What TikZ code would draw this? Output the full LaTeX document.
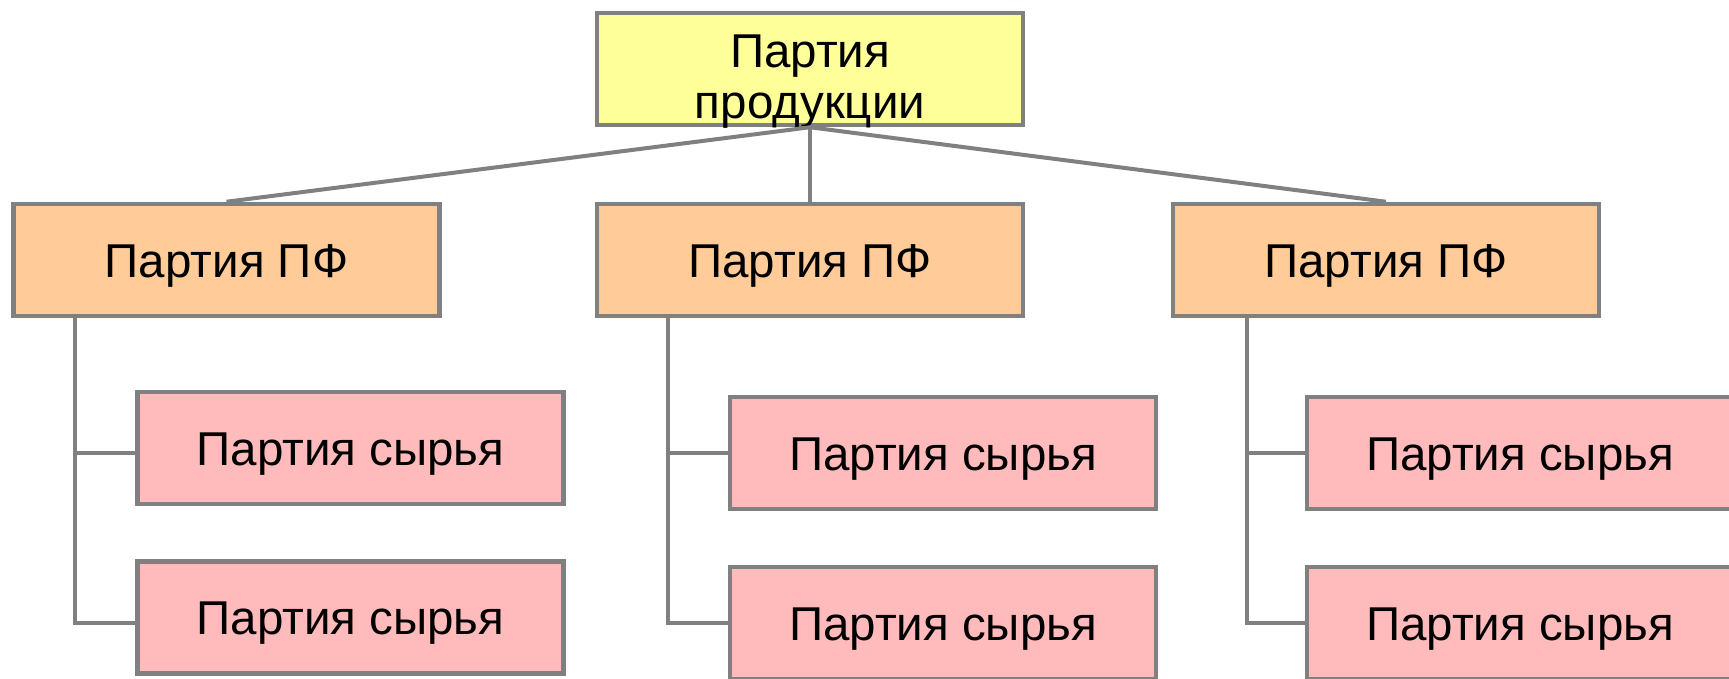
\documentclass[tikz,border=0pt]{standalone}
\usepackage{fontspec}
\setmainfont{Liberation Sans}
\definecolor{bord}{HTML}{808080}
\definecolor{rootfill}{HTML}{FFFF99}
\definecolor{pffill}{HTML}{FFCC99}
\definecolor{rawfill}{HTML}{FFBBBB}
\tikzset{
  boxbase/.style={draw=bord, line width=4.5pt, rectangle, minimum width=426pt, minimum height=112pt, inner sep=0pt,
    font=\fontsize{47.5}{51}\selectfont, text height=34pt, text depth=0pt},
  rootbox/.style={boxbase, fill=rootfill, align=center},
  pfbox/.style={boxbase, fill=pffill},
  rawbox/.style={boxbase, fill=rawfill},
  conn/.style={draw=bord, line width=4pt}
}
\begin{document}
\begin{tikzpicture}[x=1pt,y=-1pt]
\useasboundingbox (0,0) rectangle (1729,678);
\clip (0,0) rectangle (1729,678);
\fill[white] (0,0) rectangle (1729,678);
\coordinate (t1) at (75,0);
\coordinate (t2) at (668,0);
\coordinate (t3) at (1247,0);
% nodes
\node[rootbox, text height=98pt] (root) at (810,69) {Партия\\продукции};
\node[pfbox] (pf1) at (226.5,260) {Партия ПФ};
\node[pfbox] (pf2) at (810,260) {Партия ПФ};
\node[pfbox] (pf3) at (1386,260) {Партия ПФ};
\node[rawbox] (r11) at (350.5,448) {Партия сырья};
\node[rawbox] (r12) at (350.5,617.5) {Партия сырья};
\node[rawbox] (r21) at (943,453) {Партия сырья};
\node[rawbox] (r22) at (943,623) {Партия сырья};
\node[rawbox] (r31) at (1520,453) {Партия сырья};
\node[rawbox] (r32) at (1520,623) {Партия сырья};
% connectors
\coordinate (h11) at ([yshift=-5pt]r11.west);
\coordinate (h12) at ([yshift=-5pt]r12.west);
\draw[conn] (root.south) -- (pf1.north);
\draw[conn] (root.south) -- (pf2.north);
\draw[conn] (root.south) -- (pf3.north);
\draw[conn] (pf1.south -| t1) |- (h12);
\draw[conn] (h11 -| t1) -- (h11);
\draw[conn] (pf2.south -| t2) |- (r22.west);
\draw[conn] (r21.west -| t2) -- (r21.west);
\draw[conn] (pf3.south -| t3) |- (r32.west);
\draw[conn] (r31.west -| t3) -- (r31.west);
\end{tikzpicture}
\end{document}
